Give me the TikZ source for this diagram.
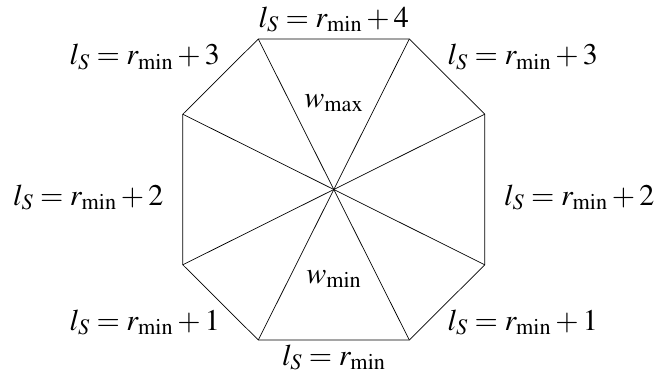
\documentclass[tikz,border=0pt]{standalone}
\usepackage{mathptmx}
\usepackage{tikz}
\usetikzlibrary{calc}
\tikzset{
  octline/.style={line width=0.7pt, black},
  sidelabel/.style={anchor=base, inner sep=0pt, font=\fontsize{30}{36}\selectfont},
  wlabel/.style={sidelabel}
}
\begin{document}
\begin{tikzpicture}[x=1pt, y=1pt]
  \useasboundingbox (-333.8,-191.5) rectangle (323.2,189.5);
  % octagon corners
  \coordinate (O) at (0,0);
  \coordinate (A) at (-75.5,150.5);
  \coordinate (B) at (75.5,150.5);
  \coordinate (C) at (151,75.3);
  \coordinate (D) at (151,-75.3);
  \coordinate (E) at (75.5,-150.5);
  \coordinate (F) at (-75.5,-150.5);
  \coordinate (G) at (-151,-75.3);
  \coordinate (H) at (-151,75.3);
  \draw[octline] (A) -- (B) -- (C) -- (D) -- (E) -- (F) -- (G) -- (H) -- cycle;
  \foreach \v in {A,B,C,D,E,F,G,H}
    \draw[octline] (O) -- (\v);
  % side labels
  \node[sidelabel] (lTop) at (0,162.5) {$l_S = r_{\min} + 4$};
  \node[sidelabel] (lTopL) at (-189,125) {$l_S = r_{\min} + 3$};
  \node[sidelabel] (lTopR) at (189,125) {$l_S = r_{\min} + 3$};
  \node[sidelabel] (lLeft) at (-245.5,-15.5) {$l_S = r_{\min} + 2$};
  \node[sidelabel] (lRight) at (245.5,-15.5) {$l_S = r_{\min} + 2$};
  \node[sidelabel] (lBotL) at (-189,-140.5) {$l_S = r_{\min} + 1$};
  \node[sidelabel] (lBotR) at (189,-140.5) {$l_S = r_{\min} + 1$};
  \node[sidelabel] (lBot) at (0,-175.5) {$l_S = r_{\min}$};
  % weights
  \node[wlabel] (wMax) at (0,82.5) {$w_{\max}$};
  \node[wlabel] (wMin) at (0,-93.5) {$w_{\min}$};
\end{tikzpicture}
\end{document}
